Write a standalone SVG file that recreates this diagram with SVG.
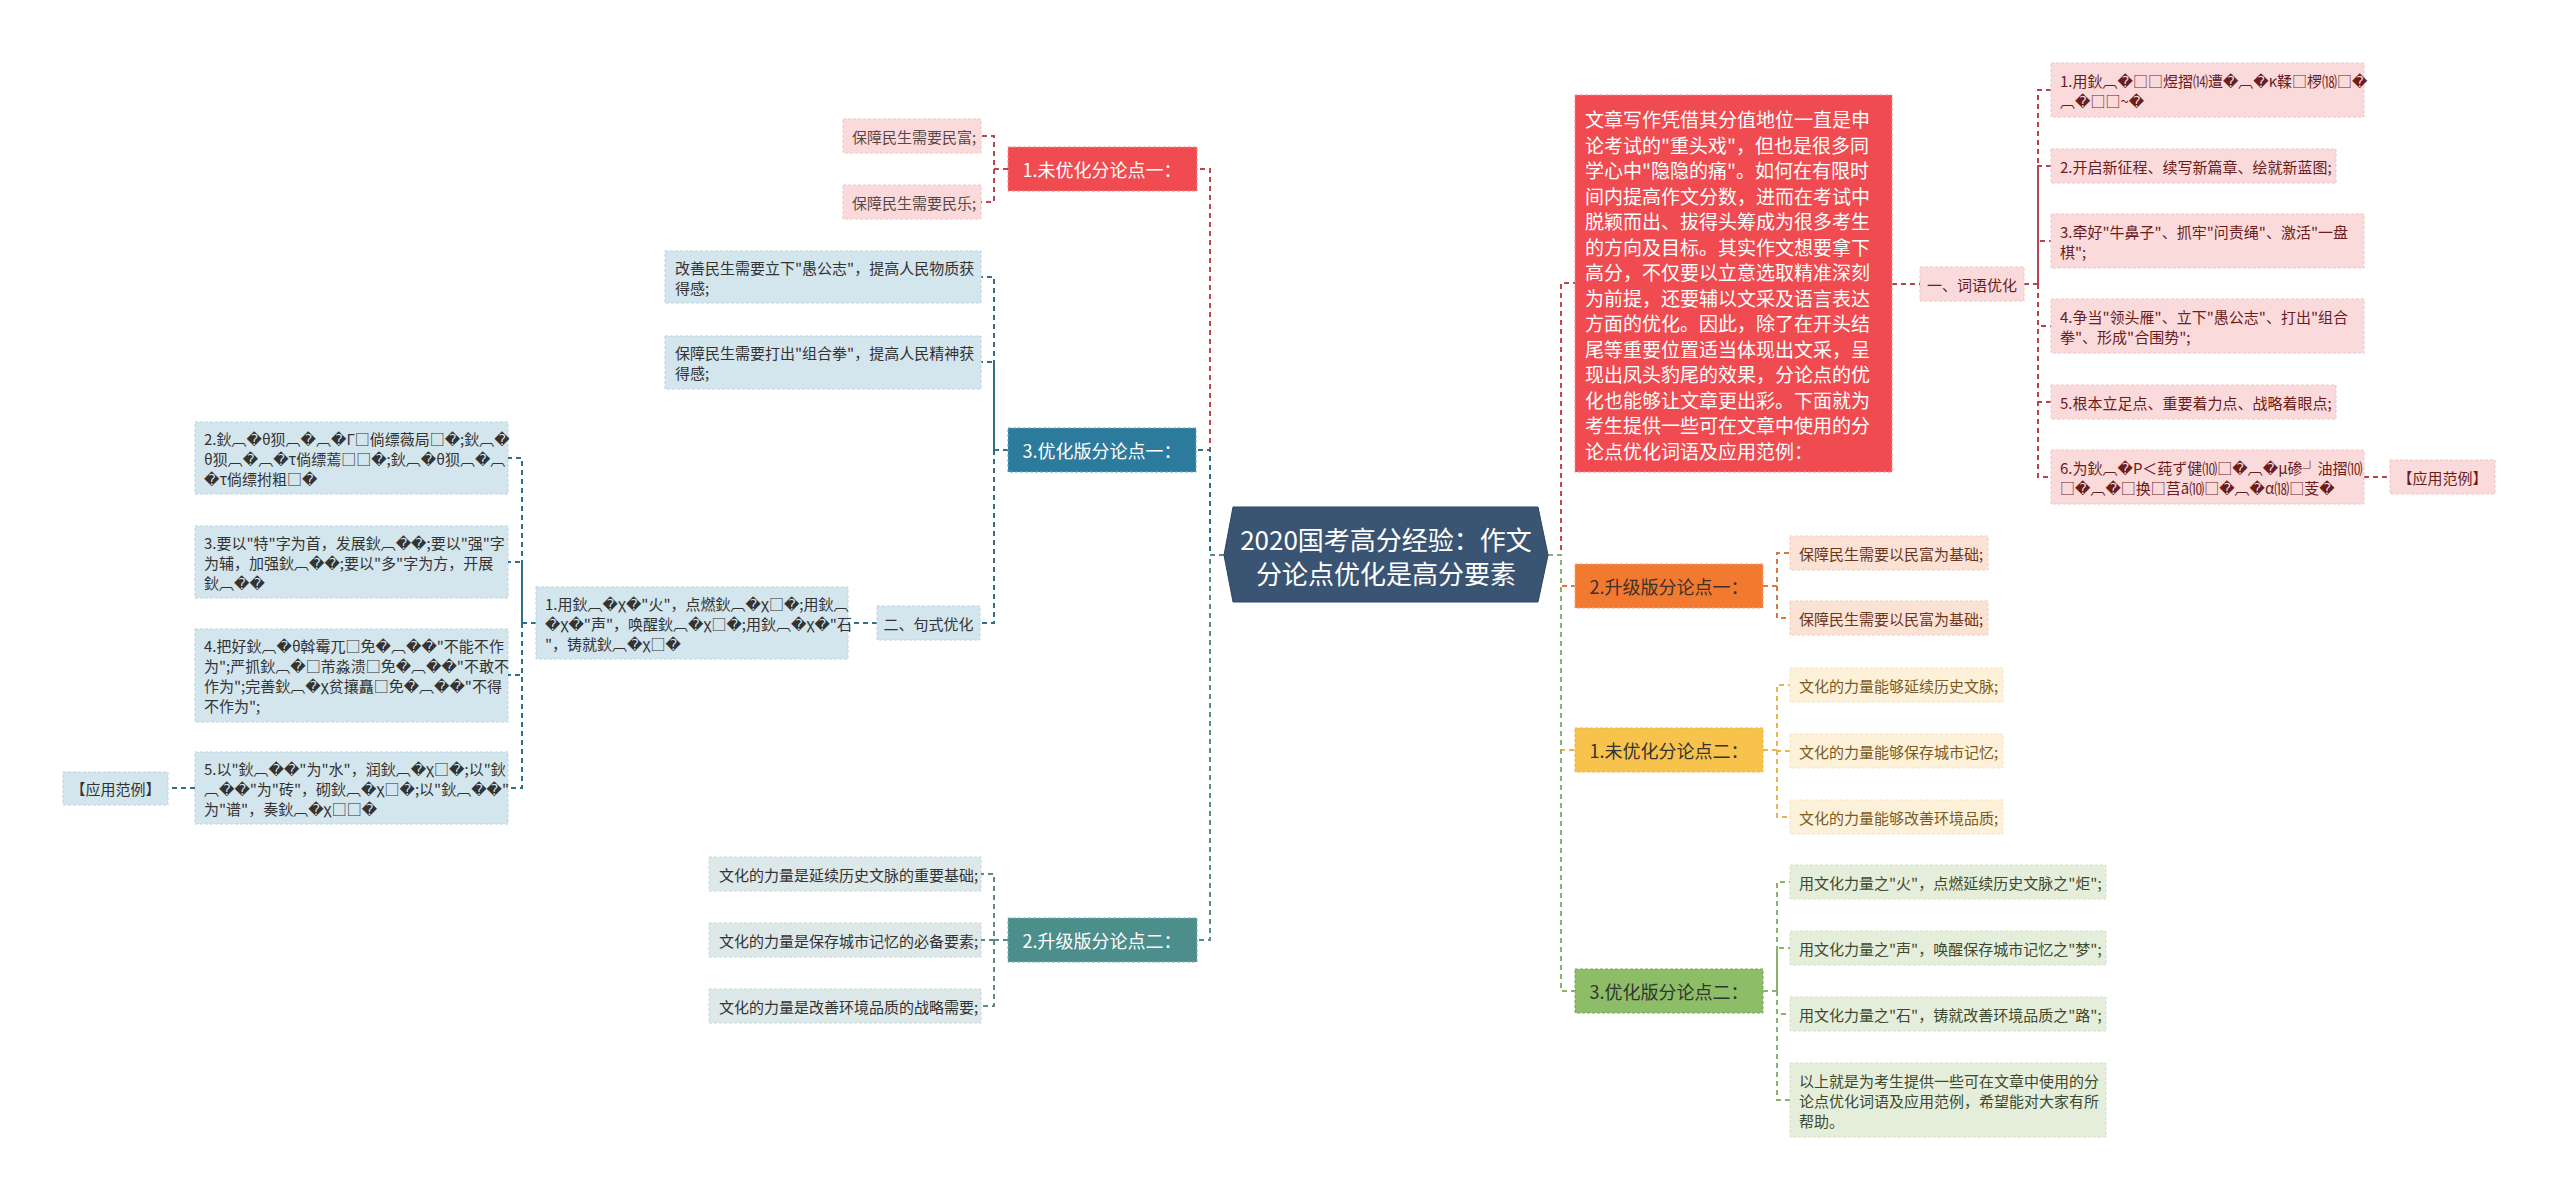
<svg xmlns="http://www.w3.org/2000/svg" width="2560" height="1200" viewBox="0 0 2560 1200">
<style>
text{font-family:'Noto Sans CJK SC','Liberation Sans','DejaVu Sans',sans-serif;}
.c{fill:none;stroke-width:2;stroke-dasharray:5 4;}
.s15{font-size:15px;}
.main{font-size:18px;text-anchor:middle;dominant-baseline:central;}
.ctr{dominant-baseline:central;}
.mid{text-anchor:middle;}
.bd{stroke-width:1;stroke-dasharray:3 2;}
.red{fill:#ef4b50;stroke:#f28d8f;}
.redc{fill:#fadadb;stroke:#f1c3c4;}
.blue{fill:#2c7a9c;stroke:#6aa6c0;}
.bluec{fill:#d3e5ed;stroke:#b9d4e0;}
.teal{fill:#4b8e8b;stroke:#7fb0ad;}
.tealc{fill:#dde8e8;stroke:#c6d8d8;}
.org{fill:#f27a30;stroke:#f6a273;}
.orgc{fill:#fbe2d5;stroke:#f5cdb8;}
.yel{fill:#f8c34c;stroke:#f0b43c;}
.yelc{fill:#fdf1da;stroke:#f5e3c0;}
.grn{fill:#8dbd67;stroke:#78a856;}
.grnc{fill:#e5eedb;stroke:#d3e2c5;}
</style>
<rect width="2560" height="1200" fill="#ffffff"/>
<g id="connectors">
<path class="c" stroke="#c0464d" d="M1224,555 H1210 V169 H1197"/>
<path class="c" stroke="#2f6f8c" d="M1224,555 H1210 V450 H1196"/>
<path class="c" stroke="#5b8a88" d="M1224,555 H1210 V940 H1197"/>
<path class="c" stroke="#b8464e" d="M1008,169 H994 V136 H981 M994,169 V202 H981"/>
<path class="c" stroke="#2f6f8c" d="M1008,450 H994 V277 H981 M994,450 V362 H981 M994,450 V623 H980"/>
<path class="c" stroke="#2f6f8c" d="M877,623 H848 M536,623 H522 V458 H508 M522,623 V562 H508 M522,623 V675 H508 M522,623 V788 H508 M195,788 H168"/>
<path class="c" stroke="#5b8a88" d="M1008,940 H994 V874 H981 M994,940 H981 M994,940 V1006 H981"/>
<path class="c" stroke="#c0464d" d="M1548,555 H1561 V283 H1575"/>
<path class="c" stroke="#e07a3a" d="M1548,555 H1561 V586 H1575"/>
<path class="c" stroke="#eab84a" d="M1548,555 H1561 V750 H1575"/>
<path class="c" stroke="#8ab36a" d="M1548,555 H1561 V991 H1575"/>
<path class="c" stroke="#b8434c" d="M1892,284 H1920 M2024,284 H2038 V90 H2051 M2038,284 V166 H2051 M2038,284 V241 H2051 M2038,284 V326 H2051 M2038,284 V402 H2051 M2038,284 V477 H2051 M2364,477 H2390"/>
<path class="c" stroke="#d27a40" d="M1763,586 H1777 V553 H1790 M1777,586 V618 H1790"/>
<path class="c" stroke="#e5b450" d="M1763,750 H1777 V685 H1790 M1777,750 V751 H1790 M1777,750 V817 H1790"/>
<path class="c" stroke="#8ab36a" d="M1763,991 H1777 V882 H1790 M1777,991 V948 H1790 M1777,991 V1014 H1790 M1777,991 V1100 H1790"/>
</g>
<g id="center">
<polygon points="1224,555 1233,507 1538,507 1548,555 1538,602 1233,602" fill="#3a5573" stroke="#2c4560" stroke-width="1"/>
<text x="1386" y="538" font-size="26" fill="#ffffff" text-anchor="middle" dominant-baseline="central">2020国考高分经验：作文</text>
<text x="1386" y="572" font-size="26" fill="#ffffff" text-anchor="middle" dominant-baseline="central">分论点优化是高分要素</text>
</g>
<g id="n-l1">
<rect x="1008" y="147" width="189" height="44" class="red bd"/>
<text x="1102" y="169" class="main" fill="#ffffff">1.未优化分论点一：</text>
</g>
<g id="n-l1-a">
<rect x="843" y="119" width="138" height="34" class="redc bd"/>
<text x="852" y="136" class="s15 ctr" fill="#5a4848">保障民生需要民富;</text>
</g>
<g id="n-l1-b">
<rect x="843" y="185" width="138" height="34" class="redc bd"/>
<text x="852" y="202" class="s15 ctr" fill="#5a4848">保障民生需要民乐;</text>
</g>
<g id="n-l2">
<rect x="1008" y="428" width="188" height="44" class="blue bd"/>
<text x="1102" y="450" class="main" fill="#ffffff">3.优化版分论点一：</text>
</g>
<g id="n-l2-a">
<rect x="665" y="251" width="316" height="52" class="bluec bd"/>
<text class="s15 ctr" fill="#333333"><tspan x="675" y="267">改善民生需要立下"愚公志"，提高人民物质获</tspan><tspan x="675" y="287">得感;</tspan></text>
</g>
<g id="n-l2-b">
<rect x="665" y="336" width="316" height="53" class="bluec bd"/>
<text class="s15 ctr" fill="#333333"><tspan x="675" y="352">保障民生需要打出"组合拳"，提高人民精神获</tspan><tspan x="675" y="372">得感;</tspan></text>
</g>
<g id="n-l2-c">
<rect x="877" y="606" width="103" height="34" class="bluec bd"/>
<text x="928.5" y="623" class="s15 ctr mid" fill="#333333">二、句式优化</text>
</g>
<g id="n-l2-c1">
<rect x="536" y="587" width="312" height="72" class="bluec bd"/>
<text class="s15 ctr" fill="#333333"><tspan x="545" y="603">1.用鈥︹�χ�"火"，点燃鈥︹�χ□�;用鈥︹</tspan><tspan x="545" y="623">�χ�"声"，唤醒鈥︹�χ□�;用鈥︹�χ�"石</tspan><tspan x="545" y="643">"，铸就鈥︹�χ□�</tspan></text>
</g>
<g id="n-l2-d2">
<rect x="195" y="422" width="313" height="72" class="bluec bd"/>
<text class="s15 ctr" fill="#333333"><tspan x="204" y="438">2.鈥︹�θ狈︹�︹�Γ□倘缥薇局□�;鈥︹�</tspan><tspan x="204" y="458">θ狈︹�︹�τ倘缥蔫□□�;鈥︹�θ狈︹�︹</tspan><tspan x="204" y="478">�τ倘缥拊粗□�</tspan></text>
</g>
<g id="n-l2-d3">
<rect x="195" y="526" width="313" height="72" class="bluec bd"/>
<text class="s15 ctr" fill="#333333"><tspan x="204" y="542">3.要以"特"字为首，发展鈥︹��;要以"强"字</tspan><tspan x="204" y="562">为辅，加强鈥︹��;要以"多"字为方，开展</tspan><tspan x="204" y="582">鈥︹��</tspan></text>
</g>
<g id="n-l2-d4">
<rect x="195" y="629" width="313" height="93" class="bluec bd"/>
<text class="s15 ctr" fill="#333333"><tspan x="204" y="645">4.把好鈥︹�θ斡霉兀□免�︹��"不能不作</tspan><tspan x="204" y="665">为";严抓鈥︹�□芾淼溃□免�︹��"不敢不</tspan><tspan x="204" y="685">作为";完善鈥︹�χ贫攘矗□免�︹��"不得</tspan><tspan x="204" y="705">不作为";</tspan></text>
</g>
<g id="n-l2-d5">
<rect x="195" y="752" width="313" height="72" class="bluec bd"/>
<text class="s15 ctr" fill="#333333"><tspan x="204" y="768">5.以"鈥︹��"为"水"，润鈥︹�χ□�;以"鈥</tspan><tspan x="204" y="788">︹��"为"砖"，砌鈥︹�χ□�;以"鈥︹��"</tspan><tspan x="204" y="808">为"谱"，奏鈥︹�χ□□�</tspan></text>
</g>
<g id="n-l2-e">
<rect x="63" y="772" width="105" height="33" class="bluec bd"/>
<text x="115.5" y="788" class="s15 ctr mid" fill="#333333">【应用范例】</text>
</g>
<g id="n-l3">
<rect x="1008" y="918" width="189" height="44" class="teal bd"/>
<text x="1102" y="940" class="main" fill="#ffffff">2.升级版分论点二：</text>
</g>
<g id="n-l3-a">
<rect x="709" y="857" width="272" height="34" class="tealc bd"/>
<text x="719" y="874" class="s15 ctr" fill="#333333">文化的力量是延续历史文脉的重要基础;</text>
</g>
<g id="n-l3-b">
<rect x="709" y="923" width="272" height="34" class="tealc bd"/>
<text x="719" y="940" class="s15 ctr" fill="#333333">文化的力量是保存城市记忆的必备要素;</text>
</g>
<g id="n-l3-c">
<rect x="709" y="989" width="272" height="34" class="tealc bd"/>
<text x="719" y="1006" class="s15 ctr" fill="#333333">文化的力量是改善环境品质的战略需要;</text>
</g>
<g id="n-r1">
<rect x="1575" y="95" width="317" height="377" class="red bd"/>
<text font-size="19" fill="#ffffff" class="ctr"><tspan x="1585" y="118">文章写作凭借其分值地位一直是申</tspan><tspan x="1585" y="143.5">论考试的"重头戏"，但也是很多同</tspan><tspan x="1585" y="169">学心中"隐隐的痛"。如何在有限时</tspan><tspan x="1585" y="194.5">间内提高作文分数，进而在考试中</tspan><tspan x="1585" y="220">脱颖而出、拔得头筹成为很多考生</tspan><tspan x="1585" y="245.5">的方向及目标。其实作文想要拿下</tspan><tspan x="1585" y="271">高分，不仅要以立意选取精准深刻</tspan><tspan x="1585" y="296.5">为前提，还要辅以文采及语言表达</tspan><tspan x="1585" y="322">方面的优化。因此，除了在开头结</tspan><tspan x="1585" y="347.5">尾等重要位置适当体现出文采，呈</tspan><tspan x="1585" y="373">现出凤头豹尾的效果，分论点的优</tspan><tspan x="1585" y="398.5">化也能够让文章更出彩。下面就为</tspan><tspan x="1585" y="424">考生提供一些可在文章中使用的分</tspan><tspan x="1585" y="449.5">论点优化词语及应用范例：</tspan></text>
</g>
<g id="n-r1-a">
<rect x="1920" y="267" width="104" height="34" class="redc bd"/>
<text x="1972" y="284" class="s15 ctr mid" fill="#6b1c1c">一、词语优化</text>
</g>
<g id="n-r1-a1">
<rect x="2051" y="63" width="313" height="54" class="redc bd"/>
<text class="s15 ctr" fill="#6b1c1c"><tspan x="2060" y="80">1.用鈥︹�□□煜摺⒁遭�︹�κ鞣□椤⒅□�</tspan><tspan x="2060" y="100">︹�□□~�</tspan></text>
</g>
<g id="n-r1-a2">
<rect x="2051" y="149" width="285" height="34" class="redc bd"/>
<text x="2060" y="166" class="s15 ctr" fill="#6b1c1c">2.开启新征程、续写新篇章、绘就新蓝图;</text>
</g>
<g id="n-r1-a3">
<rect x="2051" y="214" width="313" height="54" class="redc bd"/>
<text class="s15 ctr" fill="#6b1c1c"><tspan x="2060" y="231">3.牵好"牛鼻子"、抓牢"问责绳"、激活"一盘</tspan><tspan x="2060" y="251">棋";</tspan></text>
</g>
<g id="n-r1-a4">
<rect x="2051" y="299" width="313" height="54" class="redc bd"/>
<text class="s15 ctr" fill="#6b1c1c"><tspan x="2060" y="316">4.争当"领头雁"、立下"愚公志"、打出"组合</tspan><tspan x="2060" y="336">拳"、形成"合围势";</tspan></text>
</g>
<g id="n-r1-a5">
<rect x="2051" y="385" width="285" height="34" class="redc bd"/>
<text x="2060" y="402" class="s15 ctr" fill="#6b1c1c">5.根本立足点、重要着力点、战略着眼点;</text>
</g>
<g id="n-r1-a6">
<rect x="2051" y="450" width="313" height="54" class="redc bd"/>
<text class="s15 ctr" fill="#6b1c1c"><tspan x="2060" y="467">6.为鈥︹�P＜莼ず健⑽□�︹�μ碜┘油摺⑽</tspan><tspan x="2060" y="487">□�︹�□换□莒ā⑽□�︹�α⒅□芰�</tspan></text>
</g>
<g id="n-r1-a7">
<rect x="2390" y="460" width="105" height="34" class="redc bd"/>
<text x="2442.5" y="477" class="s15 ctr mid" fill="#6b1c1c">【应用范例】</text>
</g>
<g id="n-r2">
<rect x="1575" y="564" width="188" height="44" class="org bd"/>
<text x="1669" y="586" class="main" fill="#3d3028">2.升级版分论点一：</text>
</g>
<g id="n-r2-a">
<rect x="1790" y="536" width="198" height="34" class="orgc bd"/>
<text x="1799" y="553" class="s15 ctr" fill="#6a3820">保障民生需要以民富为基础;</text>
</g>
<g id="n-r2-b">
<rect x="1790" y="601" width="198" height="34" class="orgc bd"/>
<text x="1799" y="618" class="s15 ctr" fill="#6a3820">保障民生需要以民富为基础;</text>
</g>
<g id="n-r3">
<rect x="1575" y="728" width="188" height="44" class="yel bd"/>
<text x="1669" y="750" class="main" fill="#333333">1.未优化分论点二：</text>
</g>
<g id="n-r3-a">
<rect x="1790" y="668" width="213" height="34" class="yelc bd"/>
<text x="1799" y="685" class="s15 ctr" fill="#7a5a1e">文化的力量能够延续历史文脉;</text>
</g>
<g id="n-r3-b">
<rect x="1790" y="734" width="213" height="34" class="yelc bd"/>
<text x="1799" y="751" class="s15 ctr" fill="#7a5a1e">文化的力量能够保存城市记忆;</text>
</g>
<g id="n-r3-c">
<rect x="1790" y="800" width="213" height="34" class="yelc bd"/>
<text x="1799" y="817" class="s15 ctr" fill="#7a5a1e">文化的力量能够改善环境品质;</text>
</g>
<g id="n-r4">
<rect x="1575" y="969" width="188" height="44" class="grn bd"/>
<text x="1669" y="991" class="main" fill="#333333">3.优化版分论点二：</text>
</g>
<g id="n-r4-a">
<rect x="1790" y="865" width="316" height="34" class="grnc bd"/>
<text x="1799" y="882" class="s15 ctr" fill="#3d4a30">用文化力量之"火"，点燃延续历史文脉之"炬";</text>
</g>
<g id="n-r4-b">
<rect x="1790" y="931" width="316" height="34" class="grnc bd"/>
<text x="1799" y="948" class="s15 ctr" fill="#3d4a30">用文化力量之"声"，唤醒保存城市记忆之"梦";</text>
</g>
<g id="n-r4-c">
<rect x="1790" y="997" width="316" height="34" class="grnc bd"/>
<text x="1799" y="1014" class="s15 ctr" fill="#3d4a30">用文化力量之"石"，铸就改善环境品质之"路";</text>
</g>
<g id="n-r4-d">
<rect x="1790" y="1063" width="316" height="74" class="grnc bd"/>
<text class="s15 ctr" fill="#3d4a30"><tspan x="1799" y="1080">以上就是为考生提供一些可在文章中使用的分</tspan><tspan x="1799" y="1100">论点优化词语及应用范例，希望能对大家有所</tspan><tspan x="1799" y="1120">帮助。</tspan></text>
</g>
</svg>
